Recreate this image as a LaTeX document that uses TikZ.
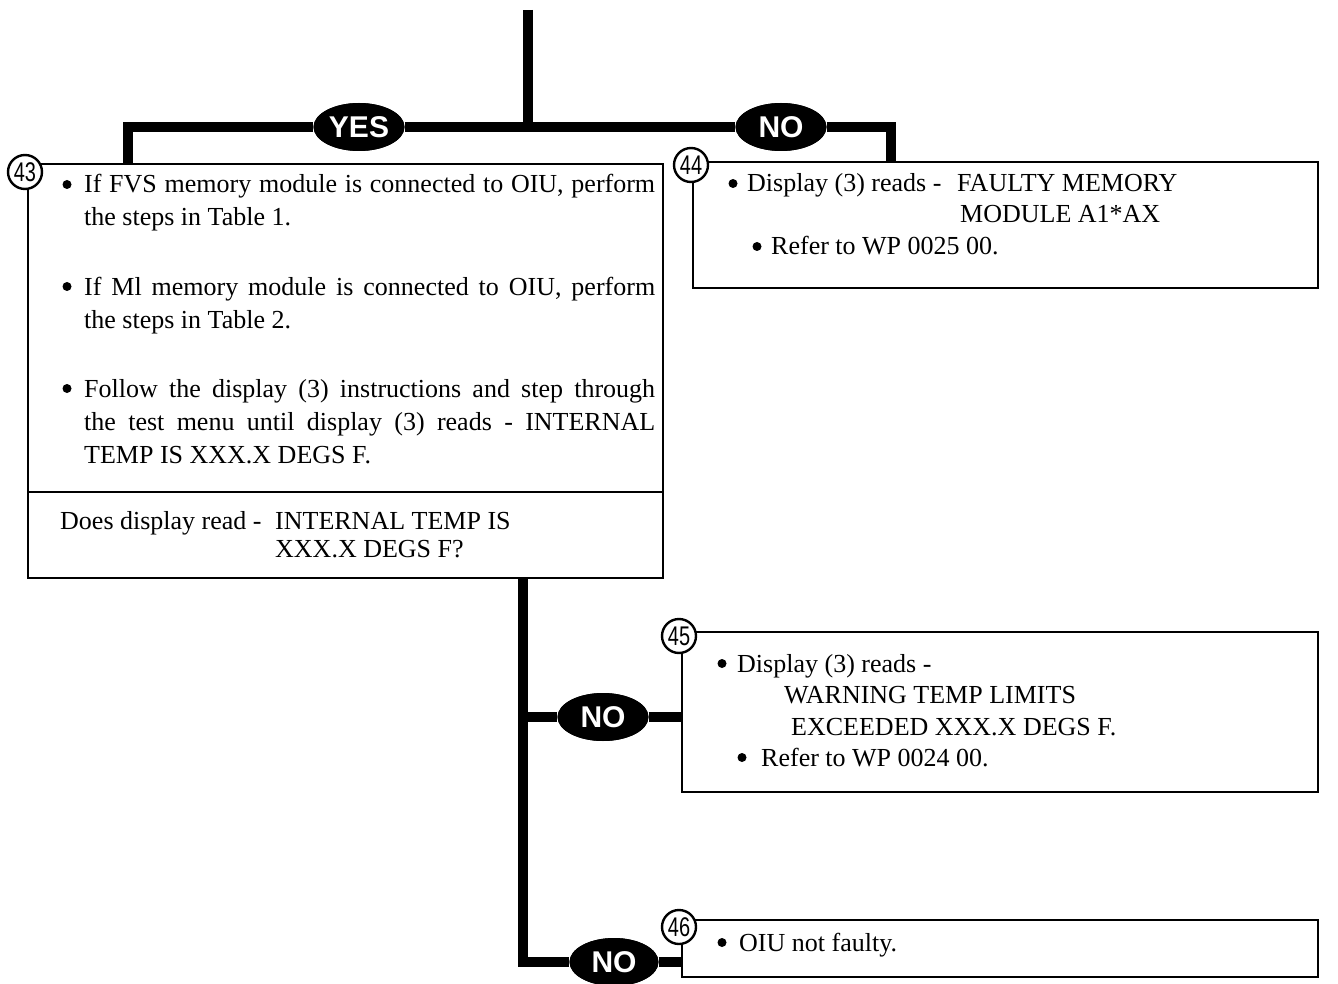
\documentclass[tikz,border=0pt]{standalone}
\usepackage{fontspec}
\setmainfont{Liberation Serif}
\newfontfamily\lsans{Liberation Sans}
\usetikzlibrary{shapes.geometric}
\tikzset{
  box/.style={draw, line width=2.7pt, inner sep=0pt, outer sep=0pt, anchor=north west},
  numcirc/.style={circle, draw, fill=white, line width=2.4pt, minimum size=34pt, inner sep=0pt,
    font=\lsans\fontsize{27}{27}\selectfont},
  lbl/.style={ellipse, fill=black, inner sep=0pt, minimum width=91pt, minimum height=48pt,
    text=white, font=\lsans\bfseries\fontsize{30}{30}\selectfont},
  conn/.style={line width=10.5pt, line join=miter},
  txt/.style={anchor=base west, inner sep=0pt, font=\fontsize{26}{30}\selectfont},
  bul/.style={circle, fill=black, inner sep=0pt, minimum size=9pt},
}
\newcommand{\numtxt}[1]{\scalebox{0.74}[1]{#1}}
\begin{document}
\begin{tikzpicture}[x=1pt,y=-1pt]
\useasboundingbox (0,0) rectangle (1338,984);
% boxes
\node[box, minimum width=635pt, minimum height=414pt] (b43) at (28,164) {};
\node[box, minimum width=625pt, minimum height=126pt] (b44) at (693,162) {};
\node[box, minimum width=636pt, minimum height=160pt] (b45) at (682,632) {};
\node[box, minimum width=636pt, minimum height=57pt] (b46) at (682,920) {};
\coordinate (dl) at (28,492);
\coordinate (dr) at (663,492);
\draw[line width=2.7pt] (dl) -- (dr);
% connectors
\coordinate (top) at (528,10);
\coordinate (j1) at (528,127);
\coordinate (lt) at (128,127);
\coordinate (rt) at (891,127);
\node[lbl] (yes) at (359,127) {YES};
\node[lbl] (no1) at (781,127) {NO};
\draw[conn] (top) -- (j1);
\draw[conn] (b43.north -| lt) -- (lt) -- (yes);
\draw[conn] (yes) -- (no1);
\draw[conn] (no1) -- (rt) -- (b44.north -| rt);
\coordinate (t2) at (523,578);
\coordinate (m2) at (523,717);
\coordinate (lb) at (523,962);
\node[lbl] (no2) at (603,717) {NO};
\node[lbl, minimum width=89pt] (no3) at (614,962) {NO};
\draw[conn] (t2) -- (lb) -- (no3);
\draw[conn] (no3) -- (b46.west |- lb);
\draw[conn] (m2) -- (no2);
\draw[conn] (no2) -- (b45.west |- m2);
\node[lbl] at (yes) {YES};
\node[lbl] at (no1) {NO};
\node[lbl] at (no2) {NO};
\node[lbl, minimum width=89pt] at (no3) {NO};
% number circles
\node[numcirc] (c43) at (25,172) {\numtxt{43}};
\node[numcirc] (c44) at (691,165) {\numtxt{44}};
\node[numcirc] (c45) at (679,636) {\numtxt{45}};
\node[numcirc] (c46) at (679,927) {\numtxt{46}};
% box 43 text
\node[bul] (u1) at (67,184.5) {};
\node[txt] (t1a) at (84,193) {\makebox[571pt][s]{If FVS memory module is connected to OIU, perform}};
\node[txt] (t1b) at (84,226) {the steps in Table 1.};
\node[bul] (u2) at (67,286.5) {};
\node[txt] (t2a) at (84,295) {\makebox[571pt][s]{If Ml memory module is connected to OIU, perform}};
\node[txt] (t2b) at (84,328) {the steps in Table 2.};
\node[bul] (u3) at (67,388.5) {};
\node[txt] (t3a) at (84,397) {\makebox[571pt][s]{Follow the display (3) instructions and step through}};
\node[txt] (t3b) at (84,430) {\makebox[571pt][s]{the test menu until display (3) reads - INTERNAL}};
\node[txt] (t3c) at (84,463) {TEMP IS XXX.X DEGS F.};
\node[txt] (q1) at (60,529) {Does display read -};
\node[txt] (q2) at (275,529) {INTERNAL TEMP IS};
\node[txt] (q3) at (275,557) {XXX.X DEGS F?};
% box 44 text
\node[bul] (u4) at (733,183.5) {};
\node[txt] (d1) at (747,192) {Display (3) reads -};
\node[txt] (d2) at (957,192) {FAULTY MEMORY};
\node[txt] (d3) at (960,223) {MODULE A1*AX};
\node[bul] (u5) at (757,246.5) {};
\node[txt] (d4) at (771,255) {Refer to WP 0025 00.};
% box 45 text
\node[bul] (u6) at (722,663.5) {};
\node[txt] (e1) at (737,672) {Display (3) reads -};
\node[txt] (e2) at (784,703) {WARNING TEMP LIMITS};
\node[txt] (e3) at (791,735) {EXCEEDED XXX.X DEGS F.};
\node[bul] (u7) at (742,757.5) {};
\node[txt] (e4) at (761,766) {Refer to WP 0024 00.};
% box 46 text
\node[bul] (u8) at (722,942.5) {};
\node[txt] (f1) at (739,951) {OIU not faulty.};
\end{tikzpicture}
\end{document}
